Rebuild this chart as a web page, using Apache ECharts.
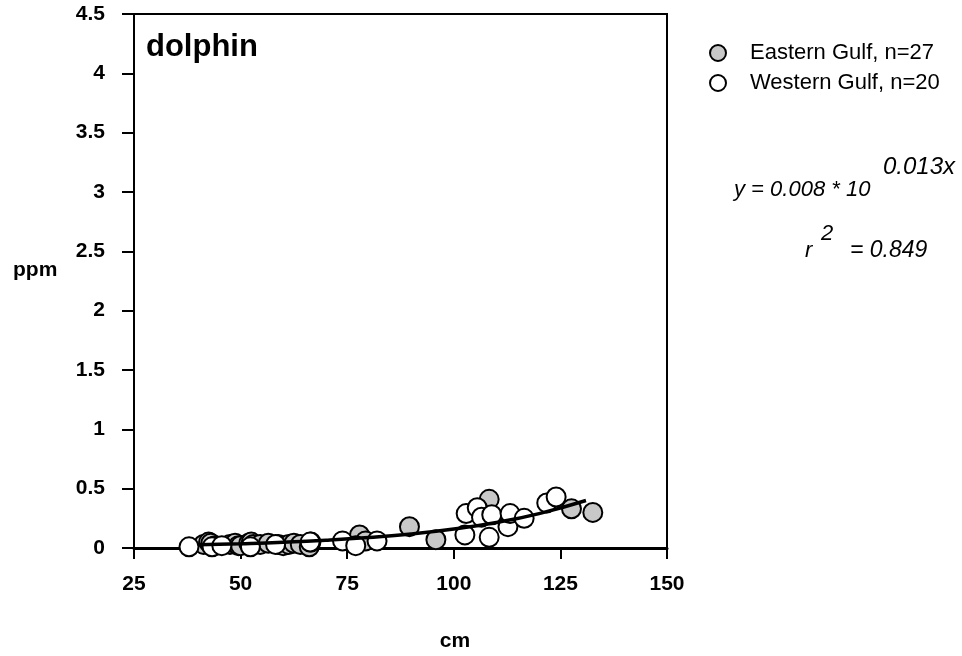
<!DOCTYPE html>
<html>
<head>
<meta charset="utf-8">
<script src="https://cdn.jsdelivr.net/npm/echarts@6/dist/echarts.min.js"></script>
<style>html,body{margin:0;padding:0;background:#fff;}#c{width:962px;height:656px;}</style>
</head>
<body>
<div id="c"></div>
<script>
var xTicks = [25, 50, 75, 100, 125, 150];
var yTicks = [0, 0.5, 1, 1.5, 2, 2.5, 3, 3.5, 4, 4.5];

var easternGulf = [
  [41.3, 0.03], [42.5, 0.05], [43, 0.04], [44, 0.02], [47.5, 0.03], [48.7, 0.04],
  [49.5, 0.02], [50, 0.02], [51.9, 0.04], [52.5, 0.05], [53, 0.03], [54.6, 0.03],
  [56.5, 0.04], [58.8, 0.03], [60, 0.02], [61.3, 0.03], [62.5, 0.04], [64, 0.03],
  [66.1, 0.01], [66.5, 0.05], [77.9, 0.11], [79.3, 0.06], [89.6, 0.18], [95.8, 0.07],
  [108.3, 0.41], [127.6, 0.33], [132.6, 0.30]
];
var westernGulf = [
  [37.9, 0.01], [43.3, 0.01], [45.6, 0.02], [52.3, 0.01], [58.2, 0.03], [66.3, 0.05],
  [73.9, 0.06], [77, 0.02], [82, 0.06], [102.6, 0.11], [102.9, 0.29], [105.5, 0.34],
  [106.5, 0.26], [108.3, 0.09], [108.9, 0.28], [112.7, 0.18], [113.2, 0.29], [116.5, 0.25],
  [121.8, 0.38], [124, 0.43]
];
var fitX = [40, 50, 60, 70, 80, 90, 100, 110, 120, 131];
var fitY = [0.027, 0.036, 0.048, 0.065, 0.088, 0.118, 0.160, 0.215, 0.290, 0.40];

var FONT = '"Liberation Sans", Arial, sans-serif';
var chart = echarts.init(document.getElementById('c'));
var fitData = fitX.map(function (x, i) { return [x, fitY[i]]; });

function txt(x, y, s, font, align) {
  return { type: 'text', x: x, y: y, style: { text: s, font: font, fill: '#000', align: align || 'left', verticalAlign: 'middle' } };
}

chart.setOption({
  animation: false,
  backgroundColor: '#fff',
  grid: { left: 134, top: 14, width: 533, height: 534, show: true, borderColor: '#000', borderWidth: 2, backgroundColor: 'transparent' },
  xAxis: {
    type: 'value', min: xTicks[0], max: xTicks[xTicks.length - 1], interval: 25,
    axisLine: { show: true, onZero: false, lineStyle: { color: '#000', width: 3 } },
    axisTick: { show: true, inside: false, length: 11, lineStyle: { color: '#000', width: 2 } },
    axisLabel: { color: '#000', fontFamily: FONT, fontWeight: 'bold', fontSize: 21, margin: 26 },
    splitLine: { show: false }
  },
  yAxis: {
    type: 'value', min: yTicks[0], max: yTicks[yTicks.length - 1], interval: 0.5,
    axisLine: { show: true, onZero: false, lineStyle: { color: '#000', width: 2 } },
    axisTick: { show: true, inside: false, length: 12, lineStyle: { color: '#000', width: 2 } },
    axisLabel: { color: '#000', fontFamily: FONT, fontWeight: 'bold', fontSize: 21, margin: 29 },
    splitLine: { show: false }
  },
  legend: {
    orient: 'vertical', left: 704, top: 37, itemGap: 8, itemWidth: 16, itemHeight: 16,
    icon: 'circle',
    textStyle: { fontFamily: FONT, fontSize: 22, color: '#000', padding: [0, 0, 0, 19] },
    data: ['Eastern Gulf, n=27', 'Western Gulf, n=20']
  },
  series: [
    {
      name: 'Eastern Gulf, n=27', type: 'scatter', data: easternGulf, symbol: 'circle', symbolSize: 19,
      itemStyle: { color: '#c8c8c8', borderColor: '#000', borderWidth: 2, opacity: 1 }, z: 2
    },
    {
      name: 'Western Gulf, n=20', type: 'scatter', data: westernGulf, symbol: 'circle', symbolSize: 19,
      itemStyle: { color: '#fff', borderColor: '#000', borderWidth: 2, opacity: 1 }, z: 3
    },
    {
      name: 'fit', type: 'line', data: fitData, smooth: true, showSymbol: false, symbol: 'none',
      lineStyle: { color: '#000', width: 3.5 }, z: 4, silent: true
    }
  ],
  graphic: [
    txt(146, 47, 'dolphin', 'bold 31px ' + FONT),
    txt(13, 270, 'ppm', 'bold 21px ' + FONT),
    txt(455, 641, 'cm', 'bold 21px ' + FONT, 'center'),
    txt(734, 190, 'y = 0.008 * 10', 'italic 22px ' + FONT),
    txt(883, 167, '0.013x', 'italic 24px ' + FONT),
    txt(805, 251, 'r', 'italic 22px ' + FONT),
    txt(821, 234, '2', 'italic 22px ' + FONT),
    txt(850, 251, '= 0.849', 'italic 23px ' + FONT)
  ]
});
</script>
</body>
</html>
